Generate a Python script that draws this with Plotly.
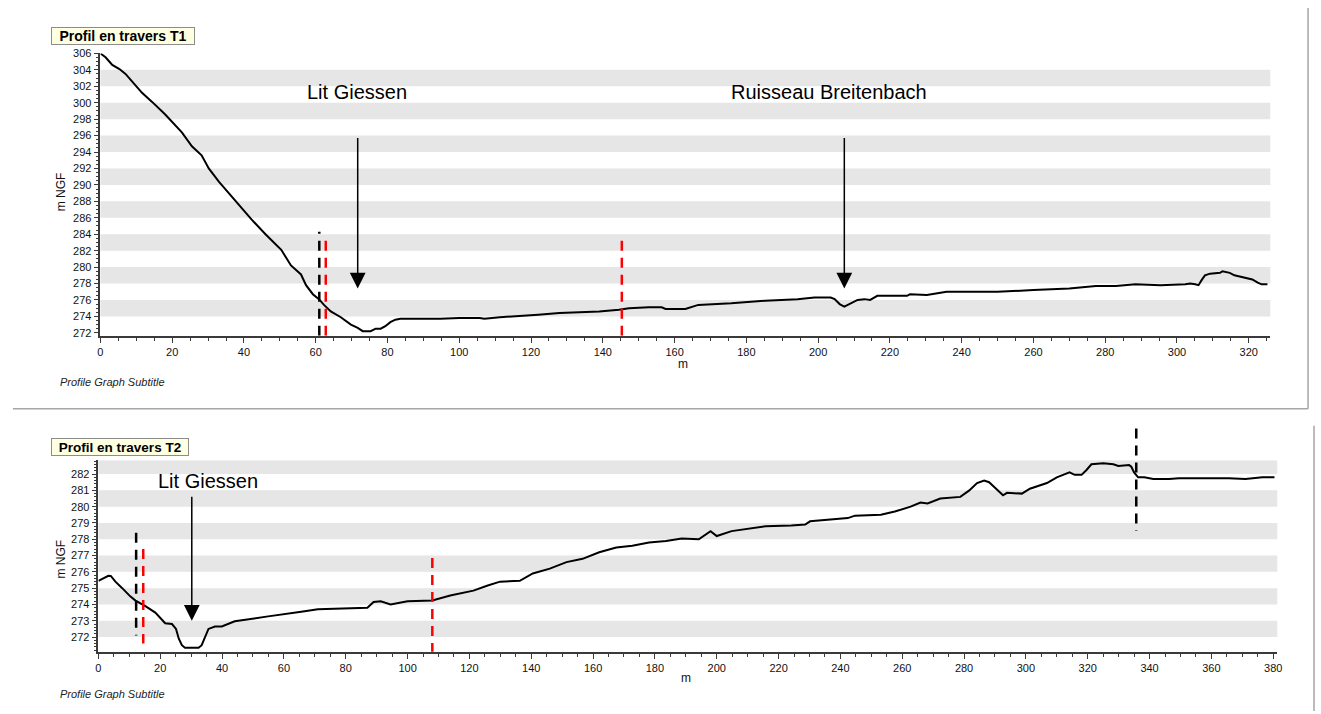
import plotly.graph_objects as go

W, H = 1321, 714

# ---------------------------------------------------------------------------
# Profil en travers T1 (distance m, altitude m NGF)
# ---------------------------------------------------------------------------
t1_x = [0, 1.5, 3.3, 5.3, 7, 8.9, 11.6, 14.4, 18, 22.7, 25.5, 28.2, 30.2, 33,
        36.5, 38.2, 42.1, 46, 50.4, 53.1, 55.9, 57.3, 59.2, 60.9, 62.3, 64.2,
        67, 69.8, 71.7, 73.1, 75.3, 76.7, 78.1, 79.4, 80.8, 82.2, 83.6, 94.7,
        100, 105.7, 107, 111.3, 116.8, 122, 127.9, 133, 139, 144.5, 147.3,
        152.8, 156.4, 157.5, 163, 166.6, 175.8, 185.2, 194.3, 199, 203.5,
        204.6, 206, 207.3, 208.7, 211, 212.9, 214.5, 216.5, 222, 224.8, 225.6,
        230.3, 235.8, 250, 260, 270, 277.4, 283, 288.4, 295.4, 302.3, 303.7,
        305.1, 306, 307, 307.8, 309.2, 312, 312.7, 314.7, 316, 319, 321, 322.5,
        323.6, 325.2]
t1_y = [306.0, 305.5, 304.6, 304.1, 303.5, 302.6, 301.2, 300.1, 298.6, 296.4,
        294.7, 293.6, 292.0, 290.4, 288.6, 287.7, 285.8, 284.0, 282.1, 280.2,
        279.1, 277.8, 276.7, 276.1, 275.4, 274.6, 273.9, 273.0, 272.6, 272.2,
        272.2, 272.5, 272.5, 272.8, 273.3, 273.6, 273.7, 273.7, 273.8, 273.8,
        273.7, 273.9, 274.1, 274.2, 274.4, 274.5, 274.6, 274.8, 275.0, 275.1,
        275.1, 274.9, 274.9, 275.4, 275.6, 275.9, 276.1, 276.3, 276.3, 276.1,
        275.5, 275.2, 275.5, 276.0, 276.1, 276.0, 276.5, 276.5, 276.5, 276.7,
        276.6, 277.0, 277.0, 277.2, 277.4, 277.7, 277.7, 277.9, 277.8, 277.9,
        278.0, 277.9, 277.8, 278.5, 279.0, 279.2, 279.3, 279.5, 279.3, 279.0,
        278.7, 278.5, 278.1, 277.9, 277.9]

# limites (noir) et berges (rouge)
t1_limit_x = [61.0]
t1_limit_top = [284.3]
t1_bank_x = [62.8, 145.3]
t1_bank_top = [283.3, 283.3]

# repères flèches
t1_labels = ["Lit Giessen", "Ruisseau Breitenbach"]
t1_label_x = [71.4, 202.9]
t1_label_y = [301.3, 301.3]
t1_arrow_x = [71.7, 207.3]
t1_arrow_top = [295.9, 295.9]
t1_arrow_tip = [277.4, 277.4]

# ---------------------------------------------------------------------------
# Profil en travers T2
# ---------------------------------------------------------------------------
t2_x = [0, 3.2, 4, 5.5, 7.7, 10.3, 12, 15.2, 18.4, 21.6, 23.8, 25.1, 26, 27,
        28, 32.4, 33.4, 34.5, 35.6, 37.7, 39.9, 44.1, 48.5, 54.9, 65.6, 71,
        87, 89, 91.3, 94.5, 100, 108, 113.8, 121.3, 125.7, 129.9, 136.3, 140.5,
        146, 151.4, 156.6, 162, 167.5, 172.7, 178.1, 183.6, 188.7, 194.2, 198,
        200, 204.8, 210.3, 215.8, 224.1, 228.6, 230.2, 237, 242.4, 244.7,
        253.1, 257.6, 262.7, 265.9, 268.2, 272.3, 278.8, 281.7, 284.2, 286.5,
        288.1, 290.1, 292.6, 293.9, 298.7, 301.3, 306.8, 310, 314.1, 315.8,
        318, 319.6, 321.2, 325, 328.3, 329.9, 333.4, 334.1, 335, 336.3, 338.3,
        341.2, 346.3, 349.5, 365.6, 371, 376.5, 380.4]
t2_y = [275.45, 275.76, 275.75, 275.4, 275.0, 274.5, 274.24, 273.9, 273.5,
        272.85, 272.8, 272.5, 271.9, 271.5, 271.35, 271.35, 271.5, 272.06,
        272.5, 272.65, 272.65, 272.97, 273.1, 273.27, 273.55, 273.7, 273.8,
        274.15, 274.2, 274.0, 274.2, 274.25, 274.55, 274.85, 275.15, 275.4,
        275.45, 275.9, 276.2, 276.6, 276.8, 277.2, 277.5, 277.6, 277.8, 277.9,
        278.05, 278.0, 278.5, 278.2, 278.5, 278.65, 278.8, 278.85, 278.9,
        279.1, 279.2, 279.3, 279.45, 279.5, 279.7, 280.0, 280.25, 280.2, 280.5,
        280.6, 281.0, 281.45, 281.6, 281.5, 281.15, 280.7, 280.85, 280.8,
        281.1, 281.45, 281.8, 282.1, 281.95, 281.95, 282.25, 282.6, 282.67,
        282.6, 282.5, 282.55, 282.45, 282.1, 281.8, 281.8, 281.7, 281.7,
        281.75, 281.75, 281.7, 281.8, 281.8]

t2_limit_x = [12.2, 335.7]
t2_limit_top = [278.4, 284.8]
t2_limit_bottom = [272.1, 278.5]
t2_bank_x = [14.5, 108.0]
t2_bank_top = [277.4, 276.85]
t2_bank_bottom = [271.6, 271.1]

t2_labels = ["Lit Giessen"]
t2_label_x = [35.4]
t2_label_y = [281.6]
t2_arrow_x = [30.2]
t2_arrow_top = [280.7]
t2_arrow_tip = [273.0]

titles = ["Profil en travers T1", "Profil en travers T2"]
subtitle = "Profile Graph Subtitle"

# ---------------------------------------------------------------------------
FONT = "Liberation Sans, Arial, sans-serif"
AXC = "#3a3a3a"
BAND = "#e6e6e6"

t1_xr, t1_yr = [0, 326], [271.64, 306]
t2_xr, t2_yr = [0, 381.3], [271.1, 282.85]


def px(v):
    return v / W


def py(v):
    return 1 - v / H


def ydom(v, rng):
    return (v - rng[0]) / (rng[1] - rng[0])


fig = go.Figure()

fig.add_trace(go.Scatter(x=t1_x, y=t1_y, mode="lines", xaxis="x", yaxis="y",
                         line=dict(color="black", width=2), showlegend=False,
                         hoverinfo="x+y"))
fig.add_trace(go.Scatter(x=t2_x, y=t2_y, mode="lines", xaxis="x2", yaxis="y2",
                         line=dict(color="black", width=2), showlegend=False,
                         hoverinfo="x+y"))

shapes = []

# bandes grises alternées
for lo in range(274, 306, 4):
    shapes.append(dict(type="rect", xref="x domain", yref="y", x0=0, x1=1,
                       y0=lo, y1=lo + 2, fillcolor=BAND, line_width=0,
                       layer="below"))
for lo in [272, 274, 276, 278, 280]:
    shapes.append(dict(type="rect", xref="x2 domain", yref="y2", x0=0, x1=1,
                       y0=lo, y1=lo + 1, fillcolor=BAND, line_width=0,
                       layer="below"))
shapes.append(dict(type="rect", xref="x2 domain", yref="y2", x0=0, x1=1,
                   y0=282, y1=t2_yr[1], fillcolor=BAND, line_width=0,
                   layer="below"))

DASH = "10px,7px"

# repères verticaux T1
for xv, top in zip(t1_limit_x, t1_limit_top):
    shapes.append(dict(type="line", xref="x", yref="y", x0=xv, x1=xv,
                       y0=t1_yr[0], y1=top,
                       line=dict(color="black", width=2.5, dash=DASH)))
for xv, top in zip(t1_bank_x, t1_bank_top):
    shapes.append(dict(type="line", xref="x", yref="y", x0=xv, x1=xv,
                       y0=t1_yr[0], y1=top,
                       line=dict(color="#ff0000", width=2.5, dash=DASH)))

# repères verticaux T2 (certains dépassent la zone de tracé)
for xv, top, bot in zip(t2_limit_x, t2_limit_top, t2_limit_bottom):
    shapes.append(dict(type="line", xref="x2", yref="y2 domain", x0=xv, x1=xv,
                       y0=ydom(top, t2_yr), y1=ydom(bot, t2_yr),
                       line=dict(color="black", width=2.5, dash=DASH)))
for xv, top, bot in zip(t2_bank_x, t2_bank_top, t2_bank_bottom):
    shapes.append(dict(type="line", xref="x2", yref="y2 domain", x0=xv, x1=xv,
                       y0=ydom(top, t2_yr), y1=ydom(bot, t2_yr),
                       line=dict(color="#ff0000", width=2.5, dash=DASH)))

# cadres
FRAME = "#a6a6a6"
shapes += [
    dict(type="line", xref="paper", yref="paper", x0=px(10), x1=px(1313),
         y0=py(408), y1=py(408), line=dict(color=FRAME, width=1.5)),
    dict(type="line", xref="paper", yref="paper", x0=px(1313), x1=px(1313),
         y0=py(2), y1=py(408), line=dict(color=FRAME, width=1.5)),
    dict(type="line", xref="paper", yref="paper", x0=px(1319), x1=px(1319),
         y0=py(425), y1=0, line=dict(color=FRAME, width=1.5)),
]

annotations = []


def add_arrows(labels, lx, ly, ax_, atop, atip, xr, yr):
    for t, x0, y0, xa, yt, yp in zip(labels, lx, ly, ax_, atop, atip):
        annotations.append(dict(x=x0, y=y0, xref=xr, yref=yr, text=t,
                                showarrow=False, xanchor="center",
                                yanchor="middle",
                                font=dict(family=FONT, size=20, color="black")))
        annotations.append(dict(x=xa, y=yp, xref=xr, yref=yr, ax=xa, ay=yt,
                                axref=xr, ayref=yr, text="", showarrow=True,
                                arrowhead=2, arrowsize=2.1, arrowwidth=1.5,
                                arrowcolor="black", standoff=0))


add_arrows(t1_labels, t1_label_x, t1_label_y, t1_arrow_x, t1_arrow_top,
           t1_arrow_tip, "x", "y")
add_arrows(t2_labels, t2_label_x, t2_label_y, t2_arrow_x, t2_arrow_top,
           t2_arrow_tip, "x2", "y2")

# titres encadrés
for t, top, w, fs in [(titles[0], 21, 140, 14), (titles[1], 438, 134, 13.5)]:
    annotations.append(dict(x=px(48), y=py(top), xref="paper", yref="paper",
                            xanchor="left", yanchor="top", text=f"<b>{t}</b>",
                            showarrow=False, width=w, height=14,
                            bgcolor="#ffffe1", bordercolor="#8c8c8c",
                            borderwidth=1, borderpad=1,
                            font=dict(family=FONT, size=fs, color="black")))

# titres d'axes et sous-titres
for yc in [188, 560]:
    annotations.append(dict(x=px(58), y=py(yc), xref="paper", yref="paper",
                            xanchor="center", yanchor="middle",
                            text="m NGF", textangle=-90, showarrow=False,
                            font=dict(family=FONT, size=12, color="#111")))
for xc, yc in [(684, 363), (687, 681)]:
    annotations.append(dict(x=px(xc), y=py(yc), xref="paper", yref="paper",
                            xanchor="center", yanchor="middle",
                            text="m", showarrow=False,
                            font=dict(family=FONT, size=12, color="#111")))
for yc in [381, 697]:
    annotations.append(dict(x=px(55), y=py(yc), xref="paper", yref="paper",
                            xanchor="left", yanchor="middle",
                            text=subtitle, showarrow=False,
                            font=dict(family=FONT, size=11, color="#222",
                                      style="italic")))

axis_common = dict(showline=True, linecolor=AXC, linewidth=1.5, ticks="outside",
                   ticklen=5, tickcolor=AXC, showgrid=False, zeroline=False,
                   tickfont=dict(family=FONT, size=11, color="#111"),
                   fixedrange=True)

fig.update_layout(
    width=W, height=H,
    margin=dict(l=0, r=0, t=0, b=0),
    paper_bgcolor="white", plot_bgcolor="white",
    showlegend=False,
    shapes=shapes,
    annotations=annotations,
    xaxis=dict(domain=[px(98), px(1275)], range=t1_xr, anchor="y", dtick=20,
               tick0=0, minor=dict(dtick=5, ticklen=3, ticks="outside",
                                   tickcolor=AXC),
               **axis_common),
    yaxis=dict(domain=[py(334), py(48)], range=t1_yr, anchor="x", dtick=2,
               tick0=272, minor=dict(dtick=0.5, ticklen=3, ticks="outside",
                                     tickcolor=AXC),
               **axis_common),
    xaxis2=dict(domain=[px(96), px(1282)], range=t2_xr, anchor="y2", dtick=20,
                tick0=0, minor=dict(dtick=5, ticklen=3, ticks="outside",
                                    tickcolor=AXC),
                **axis_common),
    yaxis2=dict(domain=[py(654), py(460)], range=t2_yr, anchor="x2", dtick=1,
                tick0=272, minor=dict(dtick=0.2, ticklen=3, ticks="outside",
                                      tickcolor=AXC),
                **axis_common),
)

# la page sans marge : la figure occupe exactement la fenêtre
fig.write_html("out.html", config={"displayModeBar": False},
               post_script="document.body.style.margin='0';"
                           "document.body.style.overflow='hidden';")
